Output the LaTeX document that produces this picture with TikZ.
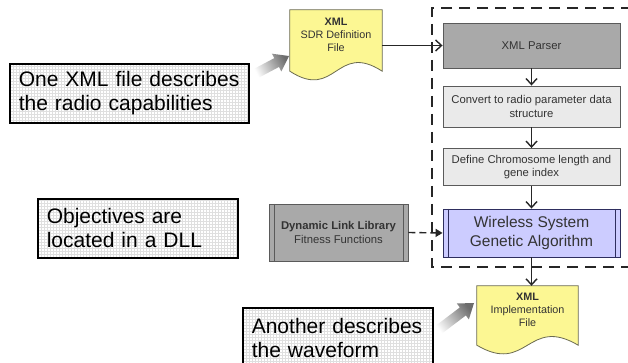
\documentclass[tikz,border=0pt]{standalone}
\usepackage{fontspec}
\setmainfont{Liberation Sans}
\usetikzlibrary{arrows.meta,calc,shadows,backgrounds}
\definecolor{docY}{HTML}{FCF793}
\definecolor{docB}{HTML}{6B6B50}
\definecolor{darkG}{HTML}{A9A9A9}
\definecolor{lightG}{HTML}{EAEAEA}
\definecolor{boxB}{HTML}{5A5A5A}
\definecolor{gaF}{HTML}{CCCCFF}
\definecolor{gaB}{HTML}{2E2E5E}
\definecolor{txt}{HTML}{333333}
\newcommand\drawdoc[1]{\draw[draw=docB, fill=docY, line width=0.8pt] (#1.north west) -- (#1.north east) -- ($(#1.south east)+(0,11)$) .. controls ($(#1.south)+(0,-19)$) and ($(#1.south)+(0,41)$) .. ($(#1.south west)+(0,11)$) -- cycle;}
\tikzset{
  note/.style={draw=black, line width=1.6pt, fill=white, inner xsep=9pt, inner ysep=0pt,
    align=left, anchor=north west, font=\fontsize{21}{24}\selectfont, text=black,
    drop shadow={shadow xshift=1.5pt, shadow yshift=-1.5pt, opacity=0.35, fill=gray},
    path picture={\draw[gray!25, line width=0.3pt, step=3pt] (path picture bounding box.south west) grid (path picture bounding box.north east);}},
  procbox/.style={draw=boxB, line width=0.9pt, minimum width=177pt, align=center,
    font=\fontsize{11.3}{13.8}\selectfont, text=txt, inner sep=2pt},
  dblbar/.style={path picture={
    \draw[#1, line width=0.8pt] ([xshift=5pt]path picture bounding box.north west) -- ([xshift=5pt]path picture bounding box.south west);
    \draw[#1, line width=0.8pt] ([xshift=-5pt]path picture bounding box.north east) -- ([xshift=-5pt]path picture bounding box.south east);}},
  docnode/.style={minimum height=50pt, inner sep=0pt, align=center,
    font=\fontsize{10.8}{13}\selectfont, text=txt},
  arr/.style={-{Straight Barb[length=6pt,width=11pt]}, line width=1.4pt, draw=black!85},
  frame/.style={draw=black!85, line width=1.8pt, dash pattern=on 11pt off 7pt},
  grad/.style={draw=none, bottom color=white, top color=gray!85!black}
}
\begin{document}
\begin{tikzpicture}[x=1pt,y=-1pt]
\clip (0,0) rectangle (628,363);

% dashed frame
\draw[frame] (650,8) -- (432,8) -- (432,267) -- (650,267);

% process boxes
\node[procbox, fill=darkG, minimum height=45pt] (parser) at (531.5,45.5) {XML Parser};
\node[procbox, fill=lightG, minimum height=41pt] (conv) at (531.5,106.5) {Convert to radio parameter data\\structure};
\node[procbox, fill=lightG, minimum height=37pt] (def) at (531.5,167) {Define Chromosome length and\\gene index};
\node[procbox, fill=gaF, draw=gaB, minimum height=48pt, dblbar=gaB,
  font=\fontsize{15.5}{19}\selectfont] (ga) at (531.5,233) {Wireless System\\Genetic Algorithm};
\node[procbox, fill=darkG, minimum width=139pt, minimum height=57pt, dblbar=boxB] (dll) at (338.5,232.5)
  {\textbf{Dynamic Link Library}\\Fitness Functions};

% documents
\node[docnode, minimum width=92pt] (sdr) at (336,35) {\textbf{XML}\\SDR Definition\\File};
\node[docnode, minimum width=101pt, minimum height=48pt] (impl) at (527.5,310) {\textbf{XML}\\Implementation\\File};
\begin{scope}[on background layer]
  \fill[white] (0,0) rectangle (628,363);
  \drawdoc{sdr}
  \drawdoc{impl}
\end{scope}

% notes
\node[note, text width=221pt, minimum height=59pt] (n1) at (9,63) {One XML file describes\\the radio capabilities};
\node[note, text width=182pt, minimum height=59pt] (n2) at (37,198) {Objectives are\\located in a DLL};
\node[note, text width=172pt, minimum height=61pt] (n3) at (242,307) {Another describes\\the waveform};

% connectors
\coordinate (sdrE) at (sdr.east |- parser.west);
\draw[arr] (sdrE) -- (parser.west);
\draw[arr] (parser.south) -- (conv.north);
\draw[arr] (conv.south) -- (def.north);
\draw[arr] (def.south) -- (ga.north);
\draw[arr] (ga.south) -- (ga.south |- impl.north);
\draw[line width=1.4pt, draw=black!85, dash pattern=on 7pt off 4pt, -{Triangle[length=7pt,width=8pt]}] (dll.east) -- (ga.west);

% gradient block arrows
\coordinate (aT) at (255,74);
\coordinate (aP) at (289,56);
\coordinate (aH) at ($(aP)!14pt!(aT)$);
\shade[grad, shading angle=-62] ($(aT)!5pt!90:(aP)$) -- ($(aH)!5pt!90:(aP)$) -- ($(aH)!10pt!90:(aP)$) -- (aP)
  -- ($(aH)!10pt!-90:(aP)$) -- ($(aH)!5pt!-90:(aP)$) -- ($(aT)!5pt!-90:(aP)$) -- cycle;
\coordinate (bT) at (437,331);
\coordinate (bP) at (474,303);
\coordinate (bH) at ($(bP)!14pt!(bT)$);
\shade[grad, shading angle=-53] ($(bT)!5pt!90:(bP)$) -- ($(bH)!5pt!90:(bP)$) -- ($(bH)!10pt!90:(bP)$) -- (bP)
  -- ($(bH)!10pt!-90:(bP)$) -- ($(bH)!5pt!-90:(bP)$) -- ($(bT)!5pt!-90:(bP)$) -- cycle;
\end{tikzpicture}
\end{document}
